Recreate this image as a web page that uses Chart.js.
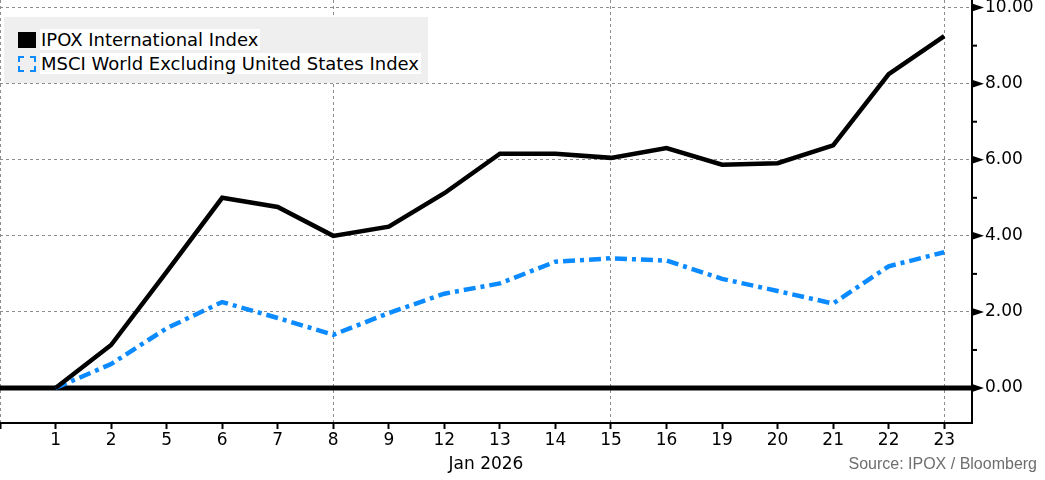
<!DOCTYPE html>
<html>
<head>
<meta charset="utf-8">
<script src="https://cdn.jsdelivr.net/npm/chart.js@4.4.1/dist/chart.umd.min.js"></script>
<style>
	body { margin: 0; background: #fff; }
	#wrap { position: relative; width: 1045px; height: 480px; }
	#legend {
		position: absolute; left: 4px; top: 17px; width: 424px; height: 66px;
		background: #efefef; font-family: "DejaVu Sans", sans-serif; font-size: 18px; color: #000;
	}
	.row { position: absolute; left: 14px; height: 23px; line-height: 23px; white-space: nowrap; }
	.row span.txt { background: #fff; padding: 0 2px 0 1px; }
	.mark { display: inline-block; width: 18px; height: 16px; vertical-align: -2px; margin-right: 4px; box-sizing: border-box; }
</style>
</head>
<body>
<div id="wrap">
	<canvas id="chart" width="1045" height="480"></canvas>
	<div id="legend">
		<div class="row" style="top:11px"><span class="mark" style="background:#000"></span><span class="txt">IPOX International Index</span></div>
		<div class="row" style="top:35px"><span class="mark" style="border:2px dashed #0b8bff"></span><span class="txt">MSCI World Excluding United States Index</span></div>
	</div>
</div>
<script>
// trading days, Jan 2026 (first slot is the blank start point)
const xLabels = ['', '1', '2', '5', '6', '7', '8', '9', '12', '13', '14', '15', '16', '19', '20', '21', '22', '23'];
const ipox = [null, 0, 1.13, 3.05, 5.0, 4.76, 4.0, 4.24, 5.12, 6.16, 6.16, 6.05, 6.31, 5.87, 5.91, 6.38, 8.25, 9.25];
const msci = [null, 0, 0.63, 1.57, 2.26, 1.84, 1.4, 1.97, 2.48, 2.75, 3.32, 3.41, 3.35, 2.87, 2.55, 2.22, 3.2, 3.57];
const yTicks = [0, 1, 2, 3, 4, 5, 6, 7, 8, 9, 10];
const weekGrid = [0, 6, 11, 17]; // dotted vertical lines

function toPoints(arr) {
	return arr.map(function (v, i) { return { x: i, y: v }; });
}

// zero line, y axis arrows and source note
const axisMarks = {
	id: 'axisMarks',
	beforeDatasetsDraw(chart) {
		const { ctx, chartArea: { left, right }, scales: { y } } = chart;
		const y0 = y.getPixelForValue(0);
		ctx.save();
		ctx.strokeStyle = '#000';
		ctx.lineWidth = 5;
		ctx.beginPath();
		ctx.moveTo(left, y0);
		ctx.lineTo(right, y0);
		ctx.stroke();
		ctx.restore();
	},
	afterDraw(chart) {
		const { ctx, chartArea: { right }, scales: { y } } = chart;
		ctx.save();
		ctx.fillStyle = '#000';
		ctx.strokeStyle = '#000';
		ctx.lineWidth = 2;
		yTicks.forEach(function (v) {
			const py = y.getPixelForValue(v);
			if (v % 2 === 0) {
				ctx.beginPath();
				ctx.moveTo(right, py - 4);
				ctx.lineTo(right + 12, py);
				ctx.lineTo(right, py + 4);
				ctx.closePath();
				ctx.fill();
			} else {
				ctx.beginPath();
				ctx.moveTo(right, py);
				ctx.lineTo(right + 5, py);
				ctx.stroke();
			}
		});
		ctx.font = '16px "Liberation Sans", Arial, sans-serif';
		ctx.fillStyle = '#6e6e6e';
		ctx.textAlign = 'right';
		ctx.textBaseline = 'middle';
		ctx.fillText('Source: IPOX / Bloomberg', chart.width - 8, 465);
		ctx.restore();
	}
};

const ctx = document.getElementById('chart').getContext('2d');
new Chart(ctx, {
	type: 'line',
	data: {
		datasets: [
			{
				label: 'IPOX International Index',
				data: toPoints(ipox),
				borderColor: '#000',
				borderWidth: 4.5,
				pointRadius: 0,
				tension: 0
			},
			{
				label: 'MSCI World Excluding United States Index',
				data: toPoints(msci),
				borderColor: '#0b8bff',
				borderWidth: 4.5,
				borderDash: [12, 5, 4, 5],
				pointRadius: 0,
				tension: 0
			}
		]
	},
	options: {
		responsive: false,
		animation: false,
		devicePixelRatio: 1,
		layout: { padding: 0 },
		plugins: {
			legend: { display: false },
			tooltip: { enabled: false }
		},
		scales: {
			x: {
				type: 'linear',
				position: 'bottom',
				min: 0,
				max: 17.5,
				afterBuildTicks: function (scale) {
					scale.ticks = xLabels.map(function (l, i) { return { value: i }; });
				},
				afterFit: function (scale) {
					scale.height = 57;
					scale.paddingLeft = 0;
					scale.paddingRight = 0;
				},
				ticks: {
					autoSkip: false,
					maxRotation: 0,
					padding: 1,
					color: '#000',
					font: { family: 'DejaVu Sans', size: 17 },
					callback: function (value) { return xLabels[value]; }
				},
				grid: {
					color: function (c) {
						return weekGrid.indexOf(c.tick ? c.tick.value : -1) >= 0 ? '#8c8c8c' : 'rgba(0,0,0,0)';
					},
					lineWidth: 1,
					tickColor: '#000',
					tickWidth: 2,
					tickLength: 6,
					tickBorderDash: []
				},
				border: { display: true, color: '#000', width: 2, dash: [3, 3] },
				title: {
					display: true,
					text: 'Jan 2026',
					color: '#000',
					font: { family: 'DejaVu Sans', size: 17 },
					padding: { top: 2, bottom: 5 }
				}
			},
			y: {
				position: 'right',
				min: -0.92,
				max: 10.2,
				afterBuildTicks: function (scale) {
					scale.ticks = yTicks.map(function (v) { return { value: v }; });
				},
				afterFit: function (scale) {
					scale.width = 73;
					scale.paddingTop = 0;
					scale.paddingBottom = 0;
				},
				ticks: {
					padding: 13,
					color: '#000',
					font: { family: 'DejaVu Sans', size: 17 },
					callback: function (value) { return value % 2 === 0 ? value.toFixed(2) : ''; }
				},
				grid: {
					drawTicks: false,
					color: function (c) {
						const v = c.tick ? c.tick.value : 1;
						return (v % 2 === 0 && v !== 0) ? '#8c8c8c' : 'rgba(0,0,0,0)';
					},
					lineWidth: 1
				},
				border: { display: true, color: '#000', width: 2, dash: [3, 3] }
			}
		}
	},
	plugins: [axisMarks]
});
</script>
</body>
</html>
